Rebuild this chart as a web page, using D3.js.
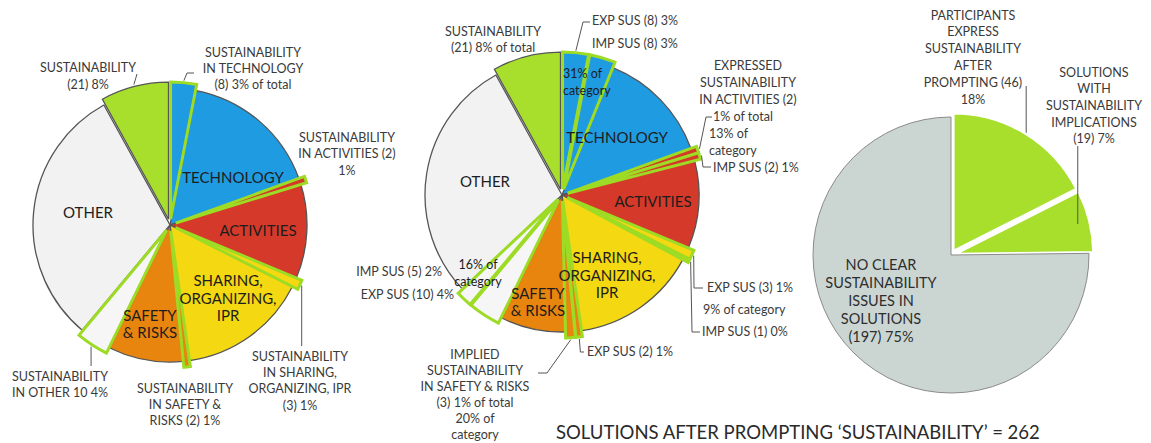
<!DOCTYPE html>
<html>
<head>
<meta charset="utf-8">
<script src="https://cdn.jsdelivr.net/npm/d3@7/dist/d3.min.js"></script>
<style>
  html, body { margin: 0; padding: 0; background: #ffffff; }
  svg { display: block; }
  text { font-family: Lato, "Open Sans", sans-serif; }
</style>
</head>
<body>
<svg id="chart" width="1151" height="443"></svg>
<script>
// ---------------- DATA ----------------
const categories = ["TECHNOLOGY", "ACTIVITIES", "SHARING, ORGANIZING, IPR", "SAFETY & RISKS", "OTHER"];
const categoryTotals = [51, 31, 43, 25, 91];      // solutions per category (incl. sustainability ones)
const expressedSus = [8, 2, 3, 2, 10];            // expressed sustainability inside category
const impliedSus = [8, 2, 1, 3, 5];               // implied sustainability inside category
const sustainabilityOnly = 21;                    // "SUSTAINABILITY" category
const summaryLabels = ["PARTICIPANTS EXPRESS SUSTAINABILITY AFTER PROMPTING", "SOLUTIONS WITH SUSTAINABILITY IMPLICATIONS", "NO CLEAR SUSTAINABILITY ISSUES IN SOLUTIONS"];
const summaryValues = [46, 19, 197];
const totalSolutions = 262;

// ---------------- STYLE ----------------
const catColors = ["#1f9be2", "#d5392a", "#f4d812", "#e8850f", "#f1f2f1"];
const susGreen = "#a7df2c";
const susStroke = "#9ddb25";
const greyFill = "#cbd6d3";
const outText = "#3a3a3a";
const inText = "#1d1d1d";

const svg = d3.select("#chart");

// Build pie inputs
const leftData = [];
categories.forEach((c, i) => {
  leftData.push({ id: "exp" + i, value: expressedSus[i], cat: i, sus: true });
  leftData.push({ id: "cat" + i, value: categoryTotals[i] - expressedSus[i], cat: i, sus: false });
});
leftData.push({ id: "sus", value: sustainabilityOnly, cat: -1, sus: false, green: true });

const midData = [];
categories.forEach((c, i) => {
  midData.push({ id: "exp" + i, value: expressedSus[i], cat: i, sus: true });
  midData.push({ id: "imp" + i, value: impliedSus[i], cat: i, sus: true });
  midData.push({ id: "cat" + i, value: categoryTotals[i] - expressedSus[i] - impliedSus[i], cat: i, sus: false });
});
midData.push({ id: "sus", value: sustainabilityOnly, cat: -1, sus: false, green: true });

const rightData = summaryLabels.map((l, i) => ({ id: ["express", "impl", "none"][i], value: summaryValues[i], green: i < 2 }));

const pie = d3.pie().sort(null).value(d => d.value);

function drawPie(cfg, data) {
  const arcs = pie(data);
  const arc = d3.arc().innerRadius(0).outerRadius(cfg.r);
  const g = svg.append("g").attr("transform", `translate(${cfg.cx},${cfg.cy})`);
  const off = d => {
    const e = (d.data.sus || d.data.green) ? cfg.explode : 0;
    const m = (d.startAngle + d.endAngle) / 2;
    return [Math.sin(m) * e, -Math.cos(m) * e];
  };
  const order = arcs.filter(d => !d.data.sus && !d.data.green)
    .concat(arcs.filter(d => d.data.green))
    .concat(arcs.filter(d => d.data.sus));
  g.selectAll("path").data(order).join("path")
    .attr("d", arc)
    .attr("transform", d => { const o = off(d); return `translate(${o[0]},${o[1]})`; })
    .attr("fill", d => d.data.green ? susGreen : (d.data.cat === 4 && d.data.sus ? "#f6f6f6" : catColors[d.data.cat]))
    .attr("stroke", d => d.data.sus ? susStroke : "#555")
    .attr("stroke-width", d => d.data.sus ? 3 : 1.3)
    .attr("stroke-linejoin", "miter")
    .attr("stroke-miterlimit", 2);
  const map = {};
  arcs.forEach(d => { map[d.data.id] = d; });
  return {
    point(id, extra = 2) {
      const d = map[id];
      const m = (d.startAngle + d.endAngle) / 2;
      const e = (d.data.sus || d.data.green) ? cfg.explode : 0;
      const rr = cfg.r + e + extra;
      return [cfg.cx + Math.sin(m) * rr, cfg.cy - Math.cos(m) * rr];
    }
  };
}

const left = drawPie({ cx: 170, cy: 225, r: 137, explode: 6 }, leftData);
const mid = drawPie({ cx: 562, cy: 195, r: 137, explode: 6 }, midData);

// Right pie (different style)
(function () {
  const cfg = { cx: 951, cy: 255, r: 138, explode: 4.5 };
  const arcs = pie(rightData);
  const arc = d3.arc().innerRadius(0).outerRadius(cfg.r);
  const g = svg.append("g").attr("transform", `translate(${cfg.cx},${cfg.cy})`);
  g.selectAll("path").data(arcs).join("path")
    .attr("d", arc)
    .attr("transform", d => {
      if (!d.data.green) return null;
      const m = (d.startAngle + d.endAngle) / 2;
      return `translate(${Math.sin(m) * cfg.explode},${-Math.cos(m) * cfg.explode})`;
    })
    .attr("fill", d => d.data.green ? susGreen : greyFill)
    .attr("stroke", d => d.data.green ? "#ffffff" : "#8a8a8a")
    .attr("stroke-width", d => d.data.green ? 2.5 : 1);
  window.rightPoint = function (id, extra = 1) {
    const d = arcs.find(a => a.data.id === id);
    const m = (d.startAngle + d.endAngle) / 2;
    const rr = cfg.r + cfg.explode + extra;
    return [cfg.cx + Math.sin(m) * rr, cfg.cy - Math.cos(m) * rr];
  };
})();

// ---------------- LEADER LINES ----------------
const line = d3.line();
function leader(p, via) {
  svg.append("path").attr("d", line([p].concat(via)))
    .attr("fill", "none").attr("stroke", "#555").attr("stroke-width", 1);
}
let p;
p = left.point("sus"); leader(p, [[137, 74]]);
p = left.point("exp0"); leader(p, [[187, 73], [194, 73]]);
p = left.point("exp2"); leader(p, [[p[0], 346]]);
p = left.point("exp4"); leader(p, [[p[0], 366]]);

p = mid.point("exp0"); leader(p, [[583, 22], [590, 22]]);
p = mid.point("exp1"); leader(p, [[706, 117], [712, 117]]);
p = mid.point("imp1"); leader(p, [[703, 167], [711, 167]]);
p = mid.point("exp2"); leader(p, [[694, 288], [703, 288]]);
p = mid.point("imp2"); leader(p, [[692, 332], [700, 332]]);
p = mid.point("exp3"); leader(p, [[p[0] + 1, 352], [584, 352]]);
p = mid.point("imp3"); leader(p, [[547, 373], [538, 373]]);

p = rightPoint("express"); leader(p, [[p[0], 86]]);
p = rightPoint("impl", -12); leader(p, [[p[0], 146]]);

// ---------------- TEXT ----------------
function label(lines, x, y, opts = {}) {
  const size = opts.size || 12.5;
  const lh = opts.lh || 16.5;
  const t = svg.append("text")
    .attr("x", x).attr("y", y)
    .attr("text-anchor", opts.anchor || "middle")
    .attr("fill", opts.color || outText)
    .attr("font-size", size);
  lines.forEach((l, i) => {
    t.append("tspan").attr("x", x).attr("y", y + i * lh).attr("dominant-baseline", "central").text(l);
  });
}

// Left pie
label(["SUSTAINABILITY", "(21) 8%"], 88, 67, { lh: 17 });
label(["SUSTAINABILITY", "IN TECHNOLOGY", "(8) 3% of total"], 253, 52, { lh: 16 });
label(["SUSTAINABILITY", "IN ACTIVITIES (2)", "1%"], 347, 137, { lh: 16.5 });
label(["SUSTAINABILITY", "IN SHARING,", "ORGANIZING, IPR", "(3) 1%"], 300, 356, { lh: 16.4 });
label(["SUSTAINABILITY", "IN SAFETY &", "RISKS (2) 1%"], 185, 388, { lh: 16.3 });
label(["SUSTAINABILITY", "IN OTHER 10 4%"], 60, 376, { lh: 16 });

label(["TECHNOLOGY"], 233, 177, { size: 15, color: inText });
label(["ACTIVITIES"], 258, 230, { size: 15, color: inText });
label(["OTHER"], 88, 212, { size: 15, color: inText });
label(["SHARING,", "ORGANIZING,", "IPR"], 228, 280, { size: 15, color: inText, lh: 17.5 });
label(["SAFETY", "& RISKS"], 150, 315, { size: 15, color: inText, lh: 17 });

// Middle pie
label(["SUSTAINABILITY", "(21) 8% of total"], 493, 31, { lh: 16 });
label(["EXP SUS (8) 3%"], 592, 20, { anchor: "start" });
label(["IMP SUS (8) 3%"], 592, 43, { anchor: "start" });
label(["31% of", "category"], 563, 73, { anchor: "start", color: inText, lh: 17 });
label(["EXPRESSED", "SUSTAINABILITY", "IN ACTIVITIES (2)"], 748, 65, { lh: 17 });
label(["1% of total"], 713, 116, { anchor: "start" });
label(["13% of", "category"], 709, 133, { anchor: "start", lh: 17 });
label(["IMP SUS (2) 1%"], 713, 167, { anchor: "start" });
label(["EXP SUS (3) 1%"], 707, 287, { anchor: "start" });
label(["9% of category"], 703, 309, { anchor: "start" });
label(["IMP SUS (1) 0%"], 702, 331, { anchor: "start" });
label(["EXP SUS (2) 1%"], 587, 351, { anchor: "start" });
label(["IMPLIED", "SUSTAINABILITY", "IN SAFETY & RISKS", "(3) 1% of total", "20% of", "category"], 475, 354, { lh: 16.1 });
label(["IMP SUS (5) 2%"], 442, 271, { anchor: "end" });
label(["EXP SUS (10) 4%"], 454, 294, { anchor: "end" });
label(["16% of", "category"], 478, 264, { color: inText, lh: 17 });

label(["TECHNOLOGY"], 617, 137, { size: 15, color: inText });
label(["ACTIVITIES"], 653, 201, { size: 15, color: inText });
label(["OTHER"], 485, 181, { size: 15, color: inText });
label(["SHARING,", "ORGANIZING,", "IPR"], 607, 257, { size: 15, color: inText, lh: 17.5 });
label(["SAFETY", "& RISKS"], 538, 293, { size: 15, color: inText, lh: 16.5 });

// Right pie
label(["PARTICIPANTS", "EXPRESS", "SUSTAINABILITY", "AFTER", "PROMPTING (46)", "18%"], 973, 15, { lh: 16.8 });
label(["SOLUTIONS", "WITH", "SUSTAINABILITY", "IMPLICATIONS", "(19) 7%"], 1094, 72, { lh: 16.7 });
label(["NO CLEAR", "SUSTAINABILITY", "ISSUES IN", "SOLUTIONS", "(197) 75%"], 881, 264, { size: 14.5, lh: 18, color: "#2e2e2e" });

// Title
label(["SOLUTIONS AFTER PROMPTING \u2018SUSTAINABILITY\u2019 = " + totalSolutions], 556, 432, { anchor: "start", size: 18.5, color: "#2a2a2a" });
</script>
</body>
</html>
